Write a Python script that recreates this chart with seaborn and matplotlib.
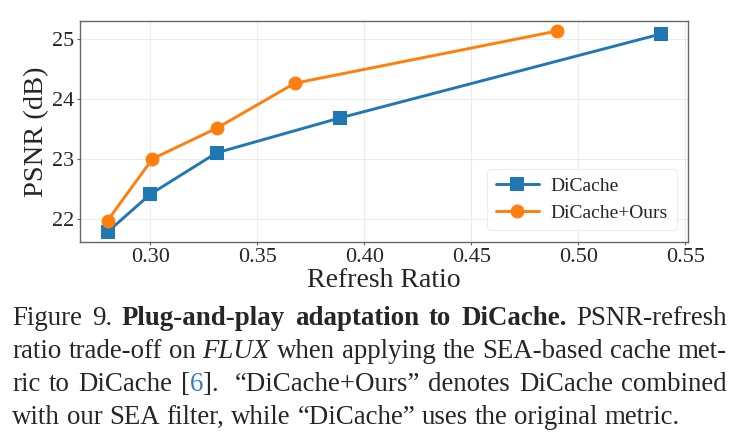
import pandas as pd
import seaborn as sns
from matplotlib import pyplot as plt

# values
dicache_ratio = [0.280, 0.300, 0.331, 0.3885, 0.5385]
dicache_psnr = [21.78, 22.41, 23.10, 23.68, 25.08]
ours_ratio = [0.280, 0.301, 0.331, 0.3675, 0.490]
ours_psnr = [21.97, 23.00, 23.51, 24.26, 25.13]
methods = ['DiCache', 'DiCache+Ours']
colors = ['#1f77b4', '#ff7f0e']

df = pd.concat([
    pd.DataFrame({'ratio': dicache_ratio, 'psnr': dicache_psnr, 'method': methods[0]}),
    pd.DataFrame({'ratio': ours_ratio, 'psnr': ours_psnr, 'method': methods[1]}),
])

sns.set_style('whitegrid')
plt.rcParams['font.family'] = ['Liberation Serif', 'DejaVu Serif']

fig = plt.figure(figsize=(7.4, 4.46), dpi=100)
ax = fig.add_axes([0.108, 0.4574, 0.822, 0.4955])

sns.lineplot(data=df, x='ratio', y='psnr', hue='method', style='method',
             palette=dict(zip(methods, colors)),
             markers={'DiCache': 's', 'DiCache+Ours': 'o'}, dashes=False,
             markersize=10, linewidth=2.1, markeredgewidth=0, ax=ax)

ax.set_xlabel('Refresh Ratio', fontsize=20, labelpad=1)
ax.set_ylabel('PSNR (dB)', fontsize=20.5, labelpad=2)
ax.set_xticks([0.30, 0.35, 0.40, 0.45, 0.50, 0.55])
ax.set_yticks([22, 23, 24, 25])
ax.tick_params(axis='both', labelsize=16, length=2.5, width=0.8, color='#666666',
               pad=1.5, bottom=True, left=True)
ax.grid(True, color='#ebebeb', linewidth=0.8)
for sp in ax.spines.values():
    sp.set_color('#666666')
    sp.set_linewidth(1.0)

handles, labels = ax.get_legend_handles_labels()
leg = ax.legend(handles, labels, loc='lower right', fontsize=14, frameon=True,
                borderpad=0.45, handlelength=2.2, handletextpad=0.6,
                labelspacing=0.45, borderaxespad=0.6)
leg.get_frame().set_edgecolor('#e8e8e8')
leg.get_frame().set_linewidth(0.8)

# caption below the chart, justified like in the paper
cap_size = 19.4
styles = {
    'n': dict(fontsize=cap_size, family='Liberation Serif'),
    'b': dict(fontsize=cap_size, family='Liberation Serif', weight='bold'),
    'i': dict(fontsize=cap_size, family='Liberation Serif', style='italic'),
    'c': dict(fontsize=cap_size, family='Liberation Serif', color='#3b7dc4'),
}


def words(text, st='n'):
    return [[(w, st)] for w in text.split(' ')]


caption_lines = [
    words('Figure 9.') + words('Plug-and-play adaptation to DiCache.', 'b') + words('PSNR-refresh'),
    words('ratio trade-off on') + words('FLUX', 'i') + words('when applying the SEA-based cache met-'),
    words('ric to DiCache') + [[('[', 'n'), ('6', 'c'), (']. ', 'n')]]
    + words('\u201cDiCache+Ours\u201d denotes DiCache combined'),
    words('with our SEA filter, while \u201cDiCache\u201d uses the original metric.'),
]
baselines = [325, 358, 391, 424]
justify = [True, True, True, False]
left_px, right_px = 12, 727

renderer = fig.canvas.get_renderer()
W, H = 740.0, 446.0
probe_a = fig.text(0, 0, 'a b', **styles['n'])
probe_b = fig.text(0, 0, 'ab', **styles['n'])
space = probe_a.get_window_extent(renderer).width - probe_b.get_window_extent(renderer).width
probe_a.remove()
probe_b.remove()

for line, yb, just in zip(caption_lines, baselines, justify):
    placed = []
    total = 0
    for word in line:
        segs = []
        for s, st in word:
            t = fig.text(0, 1 - yb / H, s, va='baseline', ha='left', **styles[st])
            w = t.get_window_extent(renderer).width
            segs.append((t, w))
            total += w
        placed.append(segs)
    gap = space
    if just and len(placed) > 1:
        gap = (right_px - left_px - total) / (len(placed) - 1)
    x = left_px
    for segs in placed:
        for t, w in segs:
            t.set_x(x / W)
            x += w
        x += gap

fig.savefig('out.png', dpi=100)
